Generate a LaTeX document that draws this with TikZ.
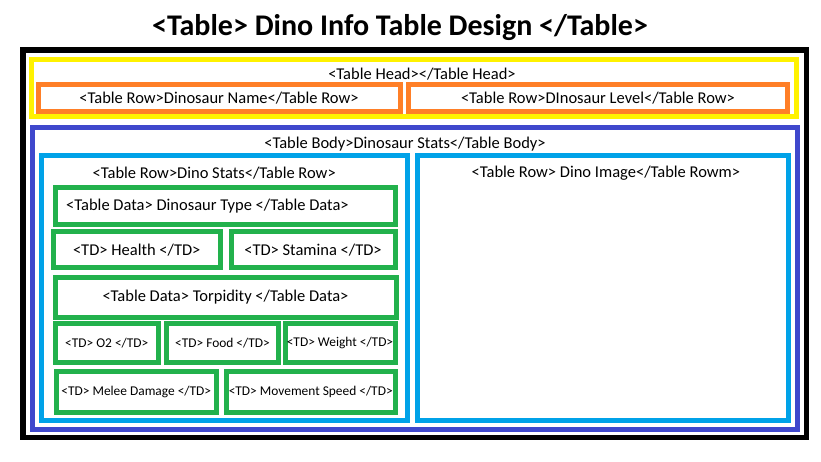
\documentclass[tikz,border=0pt]{standalone}
\usepackage{fontspec}
\setmainfont{Carlito}
\usetikzlibrary{positioning}
\definecolor{PaintYellow}{HTML}{FFF200}
\definecolor{PaintOrange}{HTML}{FF7F27}
\definecolor{PaintIndigo}{HTML}{3F48CC}
\definecolor{PaintSky}{HTML}{00A2E8}
\definecolor{PaintGreen}{HTML}{22B14C}
\tikzset{
  box/.style={rectangle, inner sep=0pt, outer sep=0pt, align=center,
    font=\fontsize{16.5}{18}\selectfont},
  tablebox/.style={box, draw=black, line width=5.5pt},
  headbox/.style={box, draw=PaintYellow, line width=5pt},
  rowbox/.style={box, draw=PaintOrange, line width=5pt},
  bodybox/.style={box, draw=PaintIndigo, line width=5pt},
  cellrow/.style={box, draw=PaintSky, line width=5pt},
  databox/.style={box, draw=PaintGreen, line width=5pt},
  smalldata/.style={databox, font=\fontsize{13.4}{15}\selectfont},
  boxlabel/.style={inner sep=0pt, font=\fontsize{16.5}{18}\selectfont},
  titlelabel/.style={inner sep=0pt, font=\fontsize{30}{32}\selectfont\bfseries}
}

\begin{document}
\begin{tikzpicture}[x=1pt, y=-1pt]
  \useasboundingbox (0,0) rectangle (821,462);
  \node[titlelabel] (title) at (400,27.5) {<Table> Dino Info Table Design </Table>};
  % outer table
  \node[tablebox, minimum width=783.5pt, minimum height=387.5pt] (table) at (414.75,243.75) {};
  % head
  \node[headbox, minimum width=765pt, minimum height=57pt] (head) at (414,88.5) {};
  \node[boxlabel] (headlabel) at ([xshift=8pt, yshift=-14pt]head.north) {<Table Head></Table Head>};
  \node[rowbox, minimum width=362pt, minimum height=27pt] (namerow) at (219,98.2) {<Table Row>Dinosaur Name</Table Row>};
  \node[rowbox, minimum width=379pt, minimum height=27pt] (levelrow) at (598,98.2) {<Table Row>DInosaur Level</Table Row>};
  % body
  \node[bodybox, minimum width=765pt, minimum height=301.5pt] (body) at (415,278.25) {};
  \node[boxlabel] (bodylabel) at ([xshift=-10pt, yshift=-17pt]body.north) {<Table Body>Dinosaur Stats</Table Body>};
  \node[cellrow, minimum width=365.5pt, minimum height=264pt] (statsrow) at (224.25,288) {};
  \node[boxlabel] (statslabel) at ([xshift=-10pt, yshift=-17.5pt]statsrow.north) {<Table Row>Dino Stats</Table Row>};
  \node[cellrow, minimum width=370.8pt, minimum height=264.5pt] (imagerow) at (602.9,288.25) {};
  \node[boxlabel] (imagelabel) at ([xshift=3pt, yshift=-17.5pt]imagerow.north) {<Table Row> Dino Image</Table Rowm>};
  % data cells
  \node[databox, minimum width=340pt, minimum height=37pt] (dinotype) at (225,206) {};
  \node[boxlabel, right=11pt of dinotype.west] (dinotypelabel) {<Table Data> Dinosaur Type </Table Data>};
  \node[databox, minimum width=166.5pt, minimum height=35.5pt] (health) at (136.75,249.75) {<TD> Health </TD>};
  \node[databox, minimum width=164pt, minimum height=35.5pt] (stamina) at (313,249.75) {<TD> Stamina </TD>};
  \node[databox, minimum width=341pt, minimum height=40.5pt] (torpidity) at (225.5,297.25) {<Table Data> Torpidity </Table Data>};
  \node[smalldata, minimum width=103.5pt, minimum height=39.5pt] (oxygen) at (106.75,342.75) {<TD> O2 </TD>};
  \node[smalldata, minimum width=112pt, minimum height=39.5pt] (food) at (222.5,342.75) {<TD> Food </TD>};
  \node[smalldata, minimum width=110pt, minimum height=39.5pt] (weight) at (340,342.75) {<TD> Weight </TD>};
  \node[smalldata, minimum width=160.5pt, minimum height=41.5pt] (melee) at (136.25,391.75) {<TD> Melee Damage </TD>};
  \node[smalldata, minimum width=168.5pt, minimum height=41.5pt] (movement) at (310.75,391.75) {<TD> Movement Speed </TD>};
\end{tikzpicture}
\end{document}
